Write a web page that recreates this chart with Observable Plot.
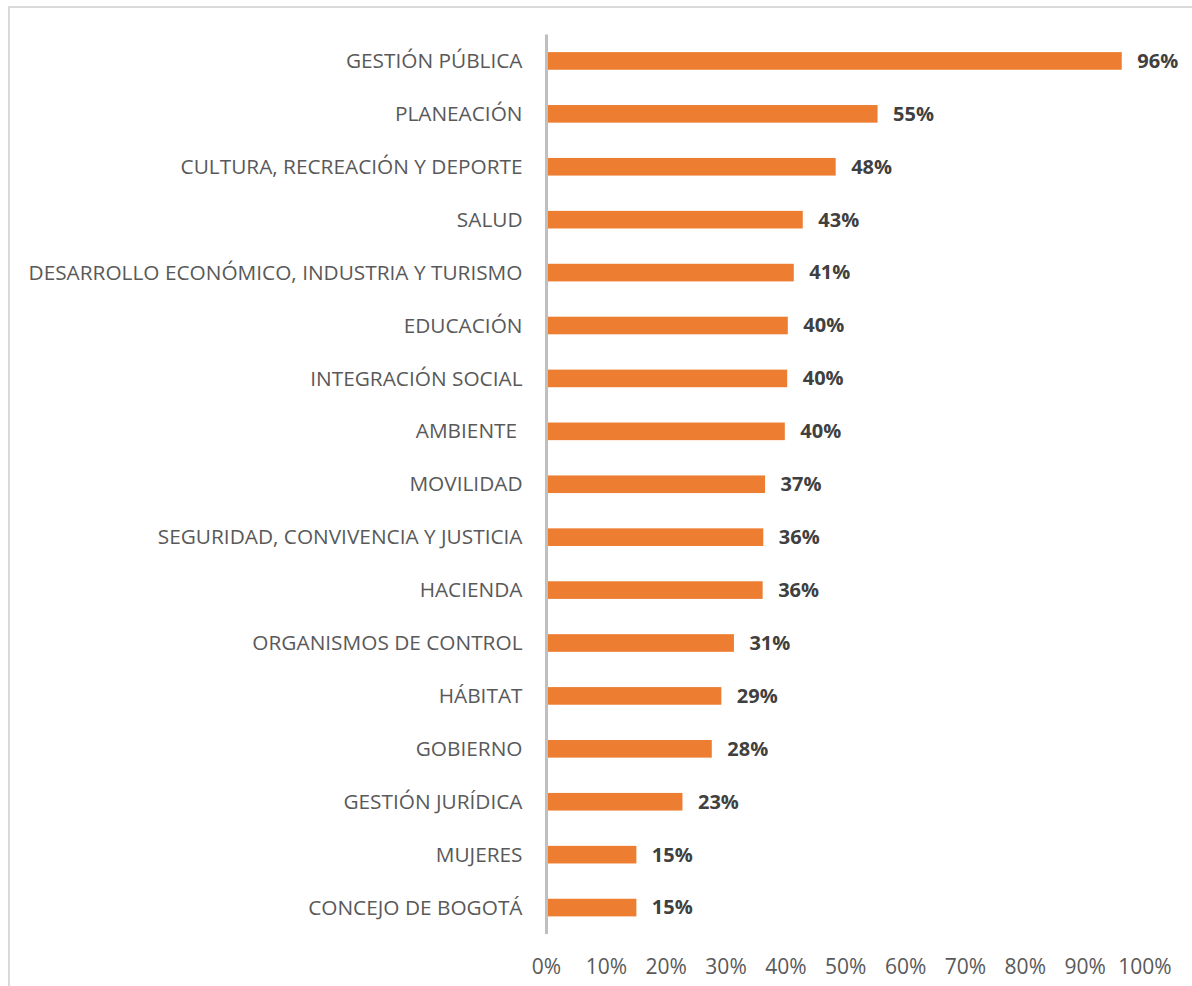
<!DOCTYPE html>
<html>
<head>
<meta charset="utf-8">
<script src="https://cdn.jsdelivr.net/npm/d3@7"></script>
<script src="https://cdn.jsdelivr.net/npm/@observablehq/plot@0.6"></script>
<style>
  html, body { margin: 0; padding: 0; background: #fff; }
  body { width: 1192px; height: 986px; overflow: hidden; position: relative; }
  #frame { position: absolute; left: 8px; top: 6px; width: 1200px; height: 1000px;
           border-left: 2px solid #d9d9d9; border-top: 2px solid #d9d9d9; }
  #chart { position: absolute; left: 0; top: 0; }
</style>
</head>
<body>
<div id="frame"></div>
<div id="chart"></div>
<script>
const categories = [
  "GESTIÓN PÚBLICA",
  "PLANEACIÓN",
  "CULTURA, RECREACIÓN Y DEPORTE",
  "SALUD",
  "DESARROLLO ECONÓMICO, INDUSTRIA Y TURISMO",
  "EDUCACIÓN",
  "INTEGRACIÓN SOCIAL",
  "AMBIENTE ",
  "MOVILIDAD",
  "SEGURIDAD, CONVIVENCIA Y JUSTICIA",
  "HACIENDA",
  "ORGANISMOS DE CONTROL",
  "HÁBITAT",
  "GOBIERNO",
  "GESTIÓN JURÍDICA",
  "MUJERES",
  "CONCEJO DE BOGOTÁ"
];
const values = [0.962, 0.554, 0.484, 0.429, 0.414, 0.404, 0.403, 0.399, 0.366, 0.363, 0.362, 0.314, 0.293, 0.277, 0.228, 0.151, 0.151];
const xTicks = [0, 0.1, 0.2, 0.3, 0.4, 0.5, 0.6, 0.7, 0.8, 0.9, 1.0];

const data = categories.map((c, i) => ({ category: c, value: values[i] }));
const font = "'Open Sans', sans-serif";

const chart = Plot.plot({
  width: 1192,
  height: 986,
  marginLeft: 546,
  marginRight: 47.5,
  marginTop: 34.5,
  marginBottom: 52,
  style: { fontFamily: font, background: "transparent", overflow: "visible" },
  x: { domain: [0, 1], label: null },
  y: { domain: categories, paddingInner: 0.667, paddingOuter: 0.333, round: false, label: null },
  marks: [
    Plot.barX(data, { x: "value", y: "category", fill: "#ED7D31" }),
    Plot.ruleX([0], { stroke: "#bfbfbf", strokeWidth: 3 }),
    Plot.text(data, {
      x: "value", y: "category", text: d => d3.format(".0%")(d.value),
      textAnchor: "start", dx: 15, fill: "#404040", fontWeight: "bold", fontSize: 20
    }),
    Plot.axisY({ tickSize: 0, tickPadding: 24, fontSize: 20.8, color: "#595959", label: null }),
    Plot.axisX({ ticks: xTicks, tickFormat: d3.format(".0%"), tickSize: 0, tickPadding: 24.5,
                 fontSize: 21, color: "#595959", label: null })
  ]
});
document.getElementById("chart").appendChild(chart);
</script>
</body>
</html>
